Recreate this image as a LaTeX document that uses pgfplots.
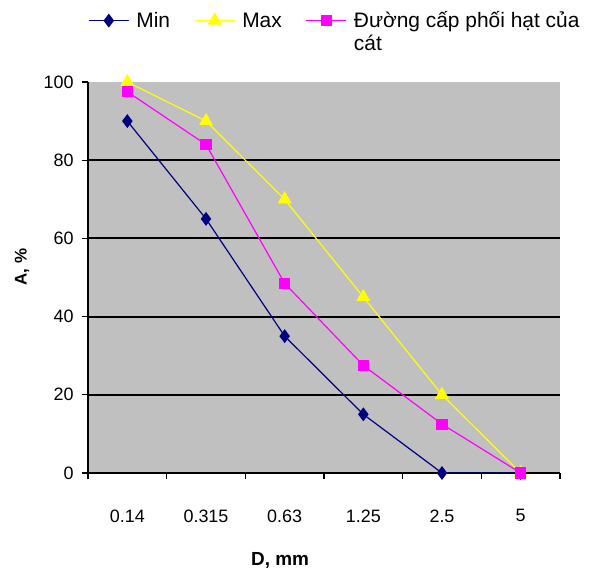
\documentclass[border=0pt]{standalone}
\usepackage{fontspec}
\setmainfont{Liberation Sans}
\usepackage{pgfplots}
\pgfplotsset{compat=1.18}
\definecolor{cmin}{RGB}{0,0,128}
\definecolor{cmax}{RGB}{255,255,0}
\definecolor{csand}{RGB}{255,0,255}
\definecolor{bg}{RGB}{192,192,192}
\begin{document}
\begin{tikzpicture}
\path[use as bounding box] (0,0) rectangle (612bp,576bp);
\begin{axis}[
  at={(88bp,103bp)}, anchor=south west,
  scale only axis, width=472bp, height=391bp,
  xmin=-0.5, xmax=5.5, ymin=0, ymax=100,
  axis x line*=bottom, axis y line*=left,
  axis line style={black, line width=1.3pt},
  axis background/.style={fill=bg},
  xtick={0,...,5},
  xticklabels={0.14,0.315,0.63,1.25,2.5,5},
  major x tick style={draw=none},
  minor xtick={-0.5,0.5,...,5.5},
  minor x tick style={black, line width=1.3pt},
  minor tick length=6bp,
  tick align=outside,
  ytick={0,20,40,60,80},
  extra y ticks={100},
  extra y tick style={ymajorgrids=false},
  ymajorgrids,
  major grid style={black, line width=2.2pt},
  major y tick style={black, line width=1.3pt},
  major tick length=6bp,
  tick label style={font=\fontsize{18}{21}\selectfont},
  /pgf/number format/assume math mode=true,
  xticklabel style={yshift=-27bp},
  yticklabel style={xshift=-5bp},
  xlabel={\textbf{D, mm}},
  ylabel={\textbf{A, \%}},
  xlabel style={at={(rel axis cs:0.407,-0.2225)}, anchor=center, font=\fontsize{19}{22}\selectfont},
  ylabel style={at={(rel axis cs:-0.14,0.527)}, anchor=center, rotate=0, font=\fontsize{17}{20}\selectfont},
  legend columns=3,
  legend style={at={(rel axis cs:0,1.185)}, anchor=north west, draw=none, fill=none,
    font=\fontsize{21}{23}\selectfont, inner sep=0pt,
    /tikz/every odd column/.append style={column sep=5bp},
    /tikz/every even column/.append style={column sep=22bp}},
  legend cell align=left,
  legend image code/.code={\draw[#1,mark repeat=2,mark phase=2] plot coordinates {(0bp,0bp)(20bp,0bp)(40bp,0bp)};},
]
\addplot[cmin, line width=1.2pt, mark=diamond*, mark size=6bp, mark options={fill=cmin}] coordinates {(0,90)(1,65)(2,35)(3,15)(4,0)(5,0)};
\addlegendentry{Min}
\addplot[cmax, line width=1.2pt, mark=triangle*, mark size=7bp, mark options={fill=cmax}] coordinates {(0,100)(1,90)(2,70)(3,45)(4,20)(5,0)};
\addlegendentry{Max}
\addplot[csand, line width=1.2pt, mark=square*, mark size=5bp, mark options={fill=csand}] coordinates {(0,97.5)(1,84)(2,48.5)(3,27.5)(4,12.5)(5,0)};
\addlegendentry{\begin{tabular}[t]{@{}l@{}}Đường cấp phối hạt của\\cát\end{tabular}}
\end{axis}
\end{tikzpicture}
\end{document}
